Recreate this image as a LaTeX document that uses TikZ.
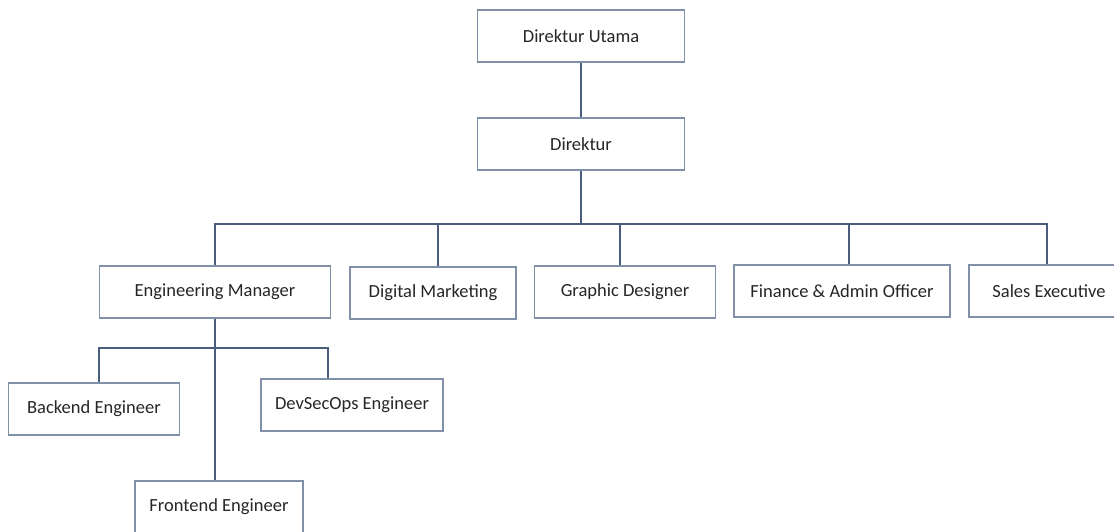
\documentclass[tikz,border=0pt]{standalone}
\usepackage{fontspec}
\setmainfont{Carlito}
\definecolor{linkblue}{HTML}{4A5D7C}
\definecolor{boxgrey}{HTML}{7F90A8}
\definecolor{textgrey}{HTML}{262626}
\begin{document}
\begin{tikzpicture}[x=1pt, y=-1pt,
  unit/.style={draw=boxgrey, line width=1.4pt, fill=white, text=textgrey,
    minimum height=52pt, inner sep=0pt, font=\fontsize{18.5}{20}\selectfont},
  link/.style={draw=linkblue, line width=2.2pt}]
\useasboundingbox (0,0) rectangle (1114,531);
\node[unit, minimum width=207pt] (DU) at (581,36) {Direktur Utama};
\node[unit, minimum width=207pt] (D) at (581,144) {Direktur};
\node[unit, minimum width=231pt] (EM) at (215,292) {Engineering Manager};
\node[unit, minimum width=166pt] (DM) at (433,293) {Digital Marketing};
\node[unit, minimum width=181pt] (GD) at (625,292) {Graphic Designer};
\node[unit, minimum width=216pt] (FA) at (842,291) {Finance \& Admin Officer};
\node[unit, minimum width=160pt] (SE) at (1049,291) {Sales Executive};
\node[unit, minimum width=171pt] (BE) at (94,409) {Backend Engineer};
\node[unit, minimum width=182pt] (DSO) at (352,405) {DevSecOps Engineer};
\node[unit, minimum width=168pt] (FE) at (219,507) {Frontend Engineer};
\coordinate (bus) at (581,224);
\coordinate (subbus) at (215,348);
% top
\draw [link] (DU) -- (D);
% second level
\draw [link] (D.south) -- (bus) -| (EM.north);
\draw [link] (bus) -| ([xshift=5pt]DM.north);
\draw [link] (bus) -| ([xshift=-5pt]GD.north);
\draw [link] (bus) -| ([xshift=7pt]FA.north);
\draw [link] (bus) -| ([xshift=-2pt]SE.north);
% engineering
\draw [link] (EM.south) -- (subbus) -| ([xshift=5pt]BE.north);
\draw [link] (subbus) -| ([xshift=-24pt]DSO.north);
\draw [link] (EM.south) -- (FE.north -| EM.south);
\end{tikzpicture}
\end{document}
